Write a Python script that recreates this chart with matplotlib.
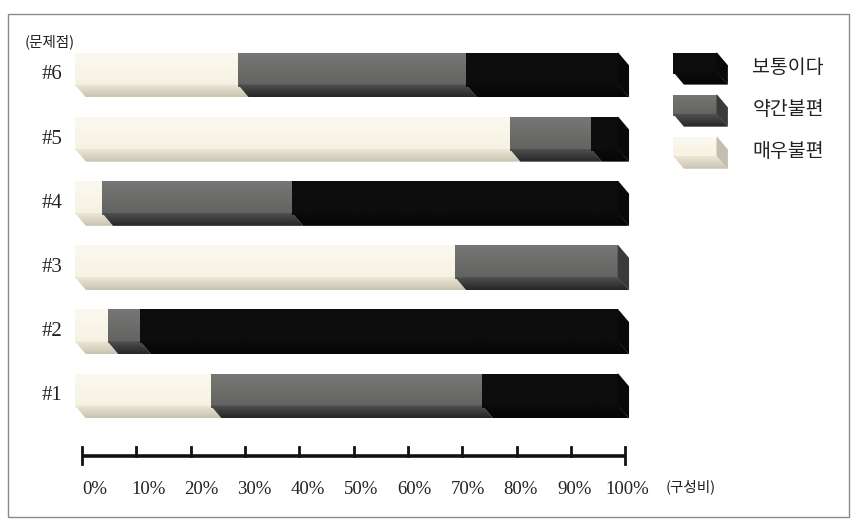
import matplotlib
matplotlib.use("Agg")
import matplotlib.pyplot as plt
import numpy as np
from matplotlib.colors import to_rgb
from matplotlib.patches import Polygon, Rectangle

# 문제점별 불편 정도 구성비 (%)
problems = ["#1", "#2", "#3", "#4", "#5", "#6"]
very_bad = [25, 6, 70, 5, 80, 30]    # 매우불편
some_bad = [50, 6, 30, 35, 15, 42]   # 약간불편
normal = [25, 88, 0, 60, 5, 28]      # 보통이다
ticks = [0, 10, 20, 30, 40, 50, 60, 70, 80, 90, 100]

# (라벨, 값, 앞면 위/아래 색, 밑면 위/아래 색, 옆면 색)
series = [
    ("매우불편", very_bad, ("#fbf9ef", "#f6f2e2"), ("#ece7d6", "#c9c3b2"), "#c4beae"),
    ("약간불편", some_bad, ("#777775", "#626260"), ("#505050", "#262626"), "#3a3a3a"),
    ("보통이다", normal, ("#0d0d0d", "#0d0d0d"), ("#0b0b0b", "#060606"), "#090909"),
]

SERIF = ["Liberation Serif", "DejaVu Serif"]
KR = ["Noto Sans CJK KR", "DejaVu Sans"]

fig = plt.figure(figsize=(8.55, 5.22), dpi=100)
ax = fig.add_axes([0, 0, 1, 1])
# x: 구성비(%), y: 문제점 번호 위치
ax.axis("off")

H = 0.70             # 막대 전체 높이
DX, DY = 2.0, 0.20   # 입체 두께


def grad_fill(poly, x0, x1, y0, y1, c_top, c_bot):
    ax.add_patch(poly)
    t = np.linspace(0, 1, 32)[:, None]
    img = (1 - t) * np.array(to_rgb(c_top)) + t * np.array(to_rgb(c_bot))
    im = ax.imshow(img[:, None, :], extent=(x0, x1, y0, y1), aspect="auto",
                   origin="upper", interpolation="bilinear", zorder=poly.get_zorder())
    im.set_clip_path(poly)


def block(a, b, yc, front, strip, side, end=False, h=H):
    top, bot = yc + h / 2, yc - h / 2
    # 앞면은 밑면 쪽으로 살짝 겹치게 그려 경계선 틈을 없앤다
    f = Polygon([(a, top), (b, top), (b, bot + DY - 0.03), (a, bot + DY - 0.03)],
                closed=True, fc="none", ec="none")
    grad_fill(f, a, b, bot + DY - 0.03, top, front[0], front[1])
    s = Polygon([(a, bot + DY), (b, bot + DY), (b + DX, bot), (a + DX, bot)],
                closed=True, fc="none", ec="none")
    grad_fill(s, a, b + DX, bot, bot + DY, strip[0], strip[1])
    if end:
        ax.add_patch(Polygon([(b - 0.1, top), (b, top), (b + DX, top - DY),
                              (b + DX, bot), (b - 0.1, bot + DY)],
                             closed=True, fc=side, ec="none"))


for i, name in enumerate(problems):
    yc = i + 1
    left = 0
    last = max(k for k, s in enumerate(series) if s[1][i] > 0)
    for k, (label, vals, front, strip, side) in enumerate(series):
        v = vals[i]
        if v <= 0:
            continue
        block(left, left + v, yc, front, strip, side, end=(k == last))
        left += v
    ax.text(-4.2, yc, name, fontsize=15, family=SERIF, color="#222222",
            ha="center", va="center")

# 가로축 (구성비)
AX_SHIFT = 1.3
AX_Y = 0.065
ax.plot([AX_SHIFT, 100 + AX_SHIFT], [AX_Y, AX_Y], color="#111111", lw=2.6,
        solid_capstyle="butt")
for t in ticks:
    lo = AX_Y - 0.13 if t in (0, 100) else AX_Y
    ax.plot([t + AX_SHIFT, t + AX_SHIFT], [lo, AX_Y + 0.14], color="#111111", lw=2.0)
    ax.text(3.68 + 0.98 * t, -0.45, f"{t}%", fontsize=13.5, family=SERIF,
            color="#222222", ha="center", va="center")

ax.text(113.3, -0.42, "(구성비)", fontsize=10.5, family=KR, color="#222222",
        ha="center", va="center")
ax.text(-4.6, 6.51, "(문제점)", fontsize=10.5, family=KR, color="#222222",
        ha="center", va="center")

# 범례
leg_y = [6.10, 5.445, 4.79]
for (label, vals, front, strip, side), ly in zip(reversed(series), leg_y):
    block(110.1, 118.2, ly, front, strip, side, end=True, h=0.50)
    ax.text(124.7, ly + 0.02, label, fontsize=14, family=KR, color="#222222",
            ha="left", va="center")

ax.set_xlim(-13.81, 143.6)
ax.set_ylim(-0.963, 7.168)

# 바깥 테두리
fig.patches.append(Rectangle((8 / 855, 5 / 522), 841 / 855, 503 / 522,
                             transform=fig.transFigure, fill=False,
                             ec="#8a8a8a", lw=1.0))

fig.savefig("out.png", dpi=100, facecolor="white")
